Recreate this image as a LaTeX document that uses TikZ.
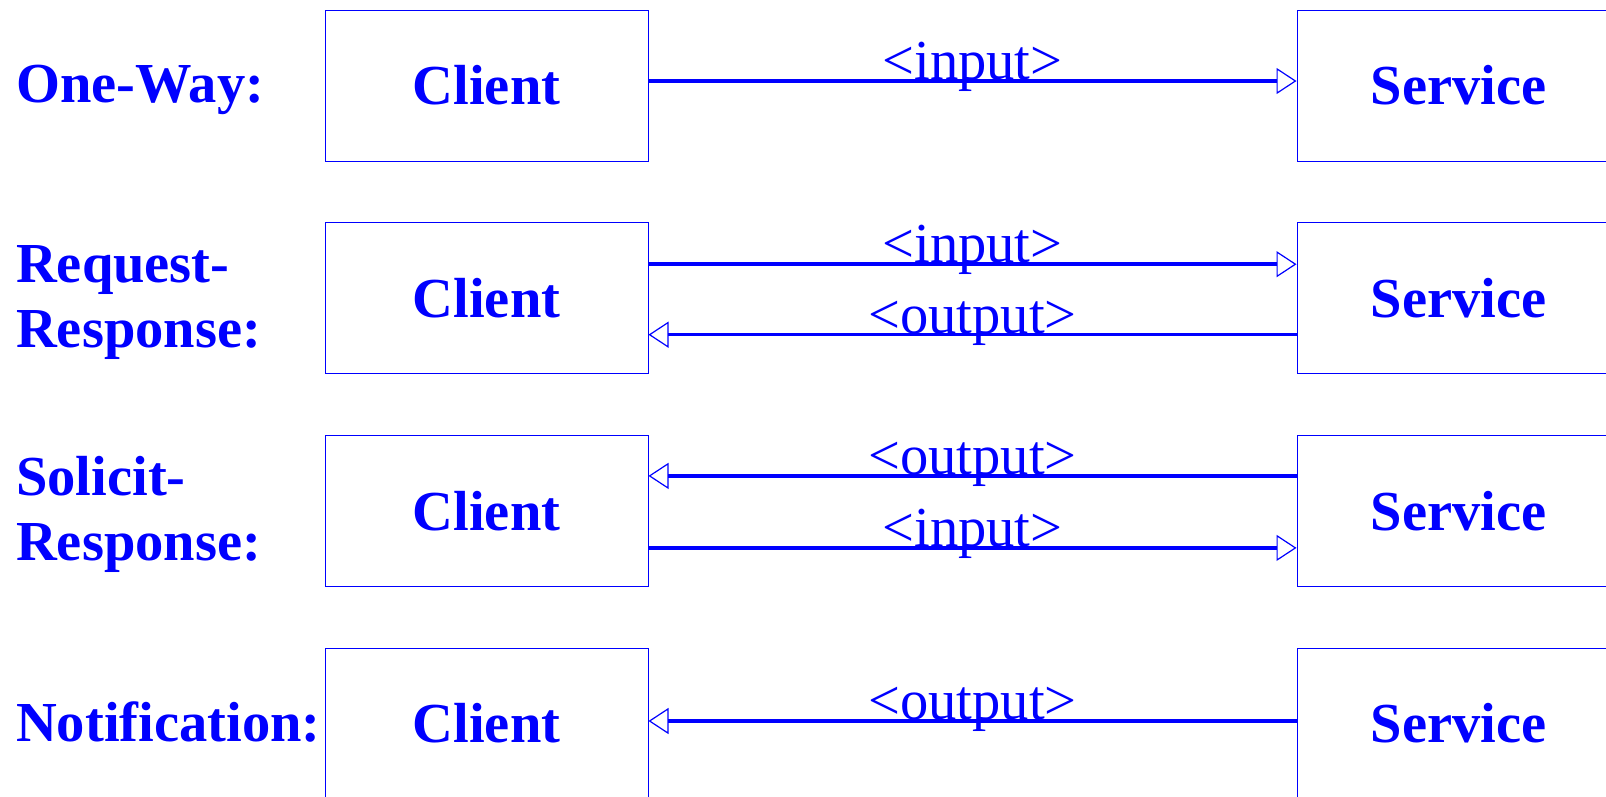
\documentclass[tikz,border=0pt]{standalone}
\usepackage{fontspec}
\setmainfont{Liberation Serif}
\usetikzlibrary{arrows.meta}
\begin{document}
\begin{tikzpicture}[x=1pt,y=-1pt,
  box/.style={draw=blue, line width=1pt, minimum width=323pt, minimum height=151pt, inner sep=0pt,
    font=\fontsize{56.5}{66}\selectfont\bfseries, text=blue},
  lab/.style={anchor=base west, inner sep=0pt, align=left,
    font=\fontsize{56.5}{65}\selectfont\bfseries, text=blue},
  msg/.style={anchor=base, inner sep=0pt, yshift=1.5pt, font=\fontsize{56.5}{66}\selectfont, text=blue},
  flow/.style={draw=blue, line width=3.5pt, -{Triangle[open, length=20pt, width=26pt, line width=1.2pt]}}]
\useasboundingbox (0,0) rectangle (1606,796);
\clip (0,0) rectangle (1606,796);
% boxes
\node[box] (c1) at (486.5,85.5) {Client};
\node[box] (s1) at (1458.5,85.5) {Service};
\node[box] (c2) at (486.5,298.2) {Client};
\node[box] (s2) at (1458.5,298.2) {Service};
\node[box] (c3) at (486.5,510.9) {Client};
\node[box] (s3) at (1458.5,510.9) {Service};
\node[box] (c4) at (486.5,723.6) {Client};
\node[box] (s4) at (1458.5,723.6) {Service};
% left labels
\node[lab] (l1) at (16,102) {One-Way:};
\node[lab] (l2) at (16,347.7) {Request-\\Response:};
\node[lab] (l3) at (16,560.5) {Solicit-\\Response:};
\node[lab] (l4) at (16,741) {Notification:};
% arrows
\draw[flow] ([yshift=4.5pt]c1.east) -- node[msg]{\textless input\textgreater} ([yshift=4.5pt]s1.west);
\draw[flow] ([yshift=34pt]c2.east) -- node[msg]{\textless input\textgreater} ([yshift=34pt]s2.west);
\draw[flow] ([yshift=-36.5pt]s2.west) -- node[msg]{\textless output\textgreater} ([yshift=-36.5pt]c2.east);
\draw[flow] ([yshift=35pt]s3.west) -- node[msg]{\textless output\textgreater} ([yshift=35pt]c3.east);
\draw[flow] ([yshift=-37pt]c3.east) -- node[msg]{\textless input\textgreater} ([yshift=-37pt]s3.west);
\draw[flow] ([yshift=2.6pt]s4.west) -- node[msg]{\textless output\textgreater} ([yshift=2.6pt]c4.east);
\end{tikzpicture}
\end{document}
